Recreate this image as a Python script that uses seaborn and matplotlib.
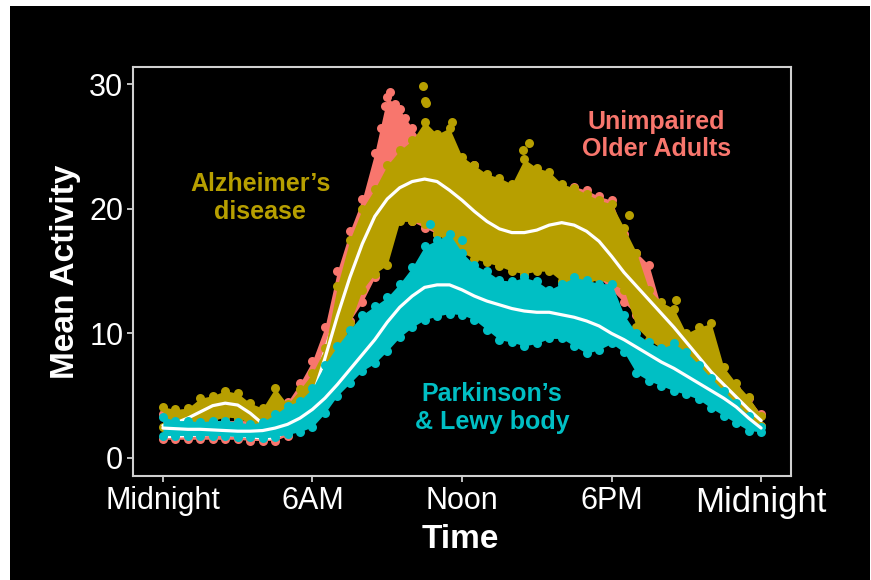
import numpy as np
import pandas as pd
import seaborn as sns
import matplotlib.pyplot as plt
from matplotlib.patches import Rectangle

# half-hour grid the values were read on (0 = midnight)
HOURS = np.arange(0, 24.5, 0.5)

TICK_HOURS = [0, 6, 12, 18, 24]
TICK_LABELS = ['Midnight', '6AM', 'Noon', '6PM', 'Midnight']
Y_TICKS = [0, 10, 20, 30]

# Unimpaired older adults
unimpaired_low = [1.5, 1.5, 1.5, 1.5, 1.5, 1.5, 1.5, 1.4, 1.4, 1.4,
                  1.8, 2.5, 4.0, 6.0, 8.5, 11.0, 12.5, 14.5, 18.5, 19.5,
                  19.0, 18.5, 18.0, 17.5, 17.0, 16.5, 16.0, 16.0, 16.0, 15.5,
                  16.0, 16.0, 16.0, 15.5, 15.0, 14.5, 13.5, 12.5, 11.5, 11.0,
                  9.5, 8.5, 7.5, 6.5, 5.5, 4.8, 4.0, 3.2, 2.6]
unimpaired_high = [3.5, 3.2, 3.0, 3.0, 3.0, 3.0, 3.0, 3.0, 3.0, 3.5,
                   4.5, 6.0, 7.8, 10.5, 15.0, 18.2, 20.8, 24.5, 29.0, 28.0,
                   26.5, 25.0, 24.5, 24.5, 23.8, 23.5, 22.0, 21.5, 21.0, 21.0,
                   21.0, 21.0, 21.5, 21.8, 21.5, 21.0, 20.7, 18.0, 16.5, 15.5,
                   12.0, 10.5, 9.5, 8.5, 7.5, 6.5, 5.5, 4.8, 3.5]
unimpaired_fit = [1.7, 1.75, 1.8, 1.85, 1.9, 1.9, 1.8, 1.7, 1.6, 1.6,
                  2.2, 3.4, 5.6, 8.6, 11.8, 15.0, 18.0, 20.4, 21.9, 22.9,
                  23.2, 23.0, 22.5, 22.0, 21.5, 20.8, 20.1, 19.5, 19.2, 19.1,
                  19.2, 19.4, 19.5, 19.3, 18.5, 17.5, 16.3, 15.0, 13.6, 12.2,
                  10.9, 9.6, 8.5, 7.4, 6.4, 5.5, 4.6, 3.8, 3.0]
unimpaired_extra_hours = [8.75, 8.9, 9.1, 9.3, 9.7]
unimpaired_extra_values = [26.5, 28.3, 29.4, 28.4, 27.3]

# Alzheimer's disease
ad_low = [2.5, 2.5, 2.6, 2.8, 3.0, 3.3, 3.2, 2.8, 2.3, 2.2,
          2.4, 2.8, 3.5, 5.0, 7.5, 10.8, 13.5, 14.8, 15.5, 19.0,
          19.0, 18.8, 18.0, 17.2, 16.5, 16.0, 15.7, 15.4, 15.0, 14.8,
          15.0, 15.0, 14.2, 13.8, 14.0, 14.4, 14.0, 13.5, 10.5, 9.5,
          8.8, 8.5, 7.8, 7.0, 6.0, 5.0, 4.0, 3.2, 2.6]
ad_high = [4.1, 3.9, 4.0, 4.8, 5.0, 5.4, 5.2, 4.4, 4.0, 5.6,
           4.3, 5.5, 6.8, 8.8, 13.8, 17.5, 20.0, 21.6, 23.5, 24.7,
           25.5, 27.0, 26.0, 26.5, 24.2, 23.5, 22.8, 22.5, 22.0, 24.0,
           23.3, 23.0, 22.0, 21.7, 21.2, 20.7, 20.4, 18.5, 16.5, 13.5,
           12.5, 12.0, 10.0, 10.5, 10.8, 7.3, 6.0, 4.9, 3.4]
ad_fit = [2.6, 2.8, 3.2, 3.7, 4.2, 4.4, 4.25, 3.6, 2.75, 2.3,
          2.5, 3.2, 4.9, 8.0, 11.4, 14.5, 17.2, 19.4, 20.8, 21.7,
          22.2, 22.4, 22.2, 21.5, 20.7, 19.8, 19.0, 18.4, 18.1, 18.1,
          18.3, 18.7, 18.9, 18.7, 18.2, 17.4, 16.2, 14.9, 13.8, 12.7,
          11.6, 10.5, 9.3, 8.1, 6.9, 5.9, 4.9, 3.9, 3.0]
ad_extra_hours = [10.45, 10.5, 10.55, 11.6, 14.45, 14.7, 18.7, 20.6]
ad_extra_values = [29.9, 28.7, 28.5, 27.0, 24.7, 25.3, 19.5, 12.7]

# Parkinson's & Lewy body
pd_low = [1.8, 1.8, 1.8, 1.8, 1.8, 1.8, 1.7, 1.7, 1.6, 1.7,
          1.9, 2.1, 2.5, 3.6, 5.0, 6.0, 7.0, 7.6, 8.6, 9.7,
          10.5, 11.1, 11.4, 11.6, 11.5, 11.1, 10.3, 9.5, 9.3, 9.0,
          9.2, 9.6, 9.6, 9.0, 8.4, 8.7, 9.2, 8.5, 6.8, 6.2,
          5.8, 5.4, 5.1, 4.7, 4.0, 3.4, 2.8, 2.2, 2.1]
pd_high = [3.3, 3.0, 3.0, 2.9, 3.0, 3.0, 2.9, 2.7, 2.9, 3.5,
           4.2, 4.6, 5.6, 7.5, 9.0, 10.3, 11.5, 12.2, 12.9, 14.0,
           15.3, 17.0, 17.5, 18.0, 16.5, 15.5, 15.0, 14.3, 14.2, 14.5,
           14.2, 13.5, 14.0, 14.5, 14.3, 14.0, 14.0, 11.5, 10.0, 9.3,
           8.8, 9.2, 8.5, 7.5, 6.4, 5.4, 4.4, 3.4, 2.5]
pd_fit = [2.4, 2.35, 2.3, 2.3, 2.25, 2.2, 2.15, 2.15, 2.2, 2.4,
          2.7, 3.2, 3.9, 4.8, 5.9, 7.1, 8.3, 9.5, 10.9, 12.1,
          13.0, 13.7, 13.9, 13.9, 13.5, 13.0, 12.6, 12.3, 12.0, 11.8,
          11.7, 11.7, 11.5, 11.3, 11.0, 10.6, 10.0, 9.5, 8.9, 8.3,
          7.7, 7.2, 6.6, 6.0, 5.4, 4.8, 4.1, 3.2, 2.4]
pd_extra_hours = [10.7, 11.4, 12.0]
pd_extra_values = [18.8, 17.5, 17.5]

RED = '#F8766D'
OLIVE = '#B79F00'
CYAN = '#00BFC4'


def edge_points(low, high, extra_hours=(), extra_values=()):
    hours = list(HOURS) + list(HOURS) + list(extra_hours)
    values = list(low) + list(high) + list(extra_values)
    return pd.DataFrame({'hour': hours, 'activity': values})


def draw_group(ax, low, high, fit, color, z, extra_hours=(), extra_values=()):
    ax.fill_between(HOURS, low, high, color=color, linewidth=0, zorder=z)
    sns.scatterplot(data=edge_points(low, high, extra_hours, extra_values),
                    x='hour', y='activity', color=color, s=42, linewidth=0,
                    ax=ax, zorder=z)
    sns.lineplot(x=HOURS, y=fit, color='white', linewidth=2.3, ax=ax, zorder=z + 0.5)


sns.set_style('ticks')
plt.rcParams['font.family'] = ['Liberation Sans', 'DejaVu Sans']

fig = plt.figure(figsize=(8.71, 5.8), dpi=100, facecolor='white')
# black slide background, with the thin white margin of the screenshot
fig.patches.append(Rectangle((10 / 871, 0), 860 / 871, 574 / 580, transform=fig.transFigure,
                             facecolor='black', edgecolor='none', zorder=-10))
ax = fig.add_axes([133 / 871, 1 - 476 / 580, 658 / 871, 409 / 580])
ax.set_facecolor('black')

draw_group(ax, unimpaired_low, unimpaired_high, unimpaired_fit, RED, 1,
           unimpaired_extra_hours, unimpaired_extra_values)
draw_group(ax, ad_low, ad_high, ad_fit, OLIVE, 3, ad_extra_hours, ad_extra_values)
draw_group(ax, pd_low, pd_high, pd_fit, CYAN, 5, pd_extra_hours, pd_extra_values)

ax.set_xlim(-1.2, 25.2)
ax.set_ylim(-1.45, 31.4)
ax.set_xticks(TICK_HOURS)
ax.set_xticklabels(TICK_LABELS)
ax.set_yticks(Y_TICKS)
ax.tick_params(colors='#d0d0d0', labelcolor='white', labelsize=22, length=4, width=1.3, pad=3)
ax.get_xticklabels()[-1].set_fontsize(25)
for spine in ax.spines.values():
    spine.set_visible(True)
    spine.set_color('#d0d0d0')
    spine.set_linewidth(1.5)

ax.set_xlabel('Time', color='white', fontsize=24, fontweight='bold')
ax.set_ylabel('Mean Activity', color='white', fontsize=24, fontweight='bold')
ax.xaxis.set_label_coords(0.497, -0.118)
ax.yaxis.set_label_coords(-0.079, 0.5)

ax.text(3.9, 20.9, 'Alzheimer\u2019s\ndisease', color=OLIVE, fontsize=18,
        fontweight='bold', ha='center', va='center', zorder=10)
ax.text(19.8, 25.9, 'Unimpaired\nOlder Adults', color=RED, fontsize=18,
        fontweight='bold', ha='center', va='center', zorder=10)
ax.text(13.2, 4.0, 'Parkinson\u2019s\n& Lewy body', color=CYAN, fontsize=18,
        fontweight='bold', ha='center', va='center', zorder=10)

fig.savefig('out.png', dpi=100, facecolor=fig.get_facecolor())
